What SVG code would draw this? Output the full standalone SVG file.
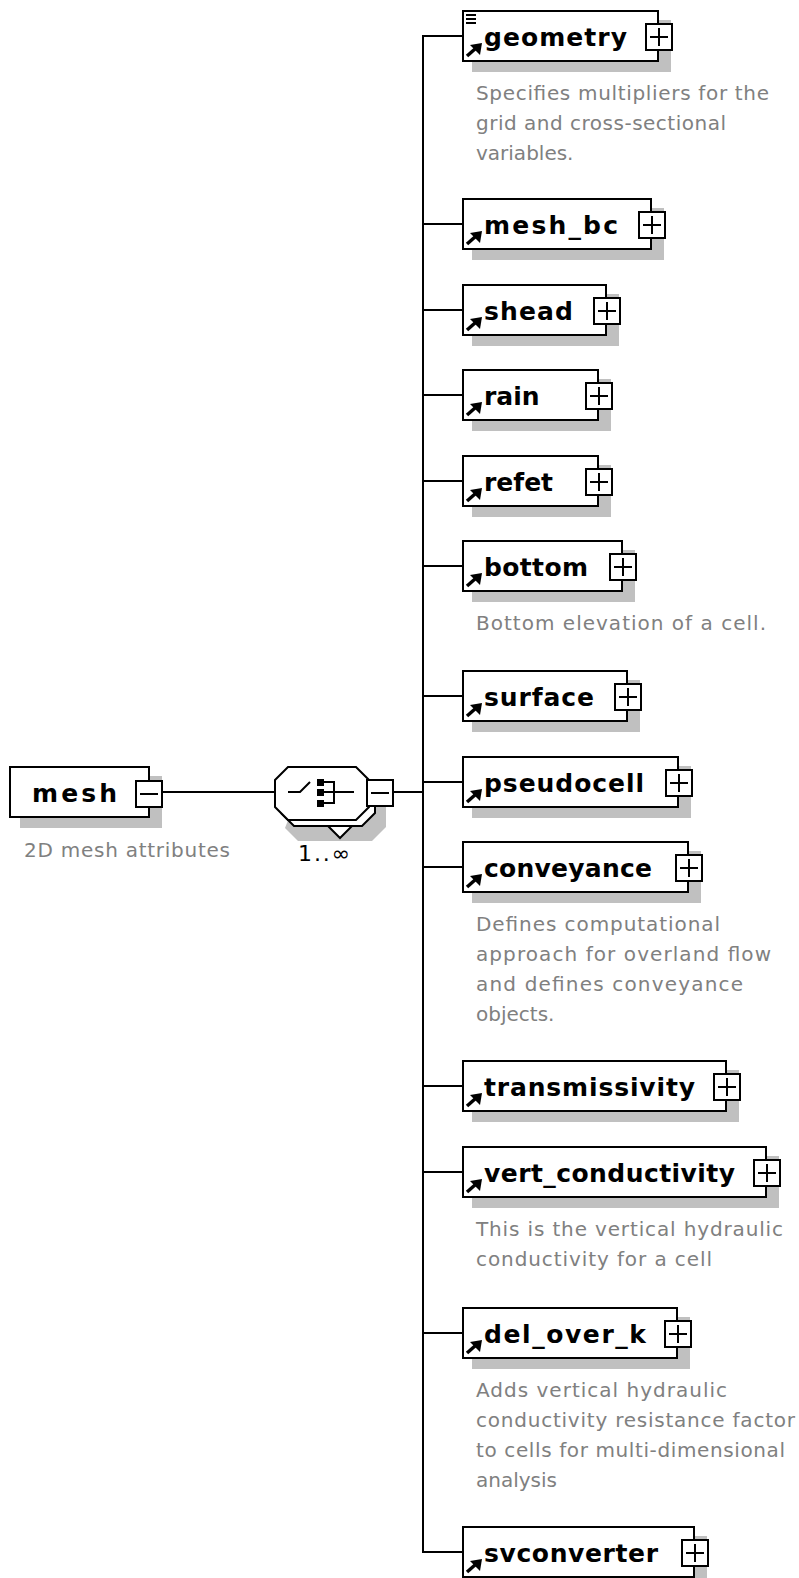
<svg xmlns="http://www.w3.org/2000/svg" xmlns:xlink="http://www.w3.org/1999/xlink" width="799" height="1578" viewBox="0 0 799 1578">
  <style>
    .box { fill: #fff; stroke: #000; stroke-width: 2; }
    .shadow { fill: #c0c0c0; }
    .wire { fill: none; stroke: #000; stroke-width: 2; }
    .lbl { font-family: "DejaVu Sans", "Liberation Sans", sans-serif; font-weight: bold; font-size: 25px; fill: #000; }
    .doc { font-family: "DejaVu Sans", "Liberation Sans", sans-serif; font-size: 20px; fill: #808080; }
    .occ { font-family: "DejaVu Sans", "Liberation Sans", sans-serif; font-size: 22px; fill: #000; }
  </style>
  <defs>
    <!-- reference arrow drawn at the lower-left corner of an element box (origin = box left, centre line) -->
    <g id="refArrow">
      <line x1="467" y1="20" x2="475" y2="13" stroke="#000" stroke-width="3.5"/>
      <polygon points="482,7 470,9 480,19" fill="#000"/>
    </g>
    <!-- expand button, centred on its anchor -->
    <g id="plusBtn">
      <rect x="-13" y="-12" width="26" height="26" class="box"/>
      <line x1="-9" y1="1" x2="9" y2="1" stroke="#000" stroke-width="2"/>
      <line x1="0" y1="-8" x2="0" y2="10" stroke="#000" stroke-width="2"/>
    </g>
    <g id="minusBtn">
      <rect x="-13" y="-12" width="26" height="26" class="box"/>
      <line x1="-9" y1="1" x2="9" y2="1" stroke="#000" stroke-width="2"/>
    </g>
  </defs>

  <!-- connectors -->
  <g id="connectors">
    <line class="wire" x1="163" y1="792" x2="275" y2="792"/>
    <line class="wire" x1="394" y1="792" x2="423" y2="792"/>
    <line class="wire" x1="423" y1="35" x2="423" y2="1553"/>
    <line class="wire" x1="422" y1="36" x2="462" y2="36"/>
    <line class="wire" x1="423" y1="224" x2="462" y2="224"/>
    <line class="wire" x1="423" y1="310" x2="462" y2="310"/>
    <line class="wire" x1="423" y1="395" x2="462" y2="395"/>
    <line class="wire" x1="423" y1="481" x2="462" y2="481"/>
    <line class="wire" x1="423" y1="566" x2="462" y2="566"/>
    <line class="wire" x1="423" y1="696" x2="462" y2="696"/>
    <line class="wire" x1="423" y1="782" x2="462" y2="782"/>
    <line class="wire" x1="423" y1="867" x2="462" y2="867"/>
    <line class="wire" x1="423" y1="1086" x2="462" y2="1086"/>
    <line class="wire" x1="423" y1="1172" x2="462" y2="1172"/>
    <line class="wire" x1="423" y1="1333" x2="462" y2="1333"/>
    <line class="wire" x1="422" y1="1552" x2="462" y2="1552"/>
  </g>

  <!-- root element -->
  <g id="node-mesh">
    <rect class="shadow" x="20" y="776" width="142" height="52"/>
    <rect class="box" x="10" y="767" width="139" height="50"/>
    <text class="lbl" x="32" y="802" textLength="85" lengthAdjust="spacing">mesh</text>
    <use xlink:href="#minusBtn" x="149" y="793"/>
    <text class="doc" x="24" y="857" textLength="206" lengthAdjust="spacing">2D mesh attributes</text>
  </g>

  <!-- sequence compositor, 1..unbounded -->
  <g id="node-sequence">
    <polygon class="shadow" points="285,828 298,841 372,841 386,827 386,790 300,790"/>
    <path d="M281,813 L294,826 L362,826 L375,813 L375,790" fill="#fff" stroke="#000" stroke-width="2"/>
    <polygon points="328,826 340,838 352,826" fill="#fff" stroke="#000" stroke-width="2"/>
    <polygon class="box" points="275,780 288,767 356,767 369,780 369,807 356,820 288,820 275,807"/>
    <path d="M288,792 H300 L310,782" fill="none" stroke="#000" stroke-width="2"/>
    <rect x="317" y="779" width="7" height="7" fill="#000"/>
    <rect x="317" y="789" width="7" height="7" fill="#000"/>
    <rect x="317" y="800" width="7" height="7" fill="#000"/>
    <path d="M324,782 H334 V803 H324 M324,792 H354" fill="none" stroke="#000" stroke-width="2"/>
    <use xlink:href="#minusBtn" x="380" y="792"/>
    <text class="occ" x="298" y="861" textLength="52" lengthAdjust="spacing">1..∞</text>
  </g>

  <g id="node-geometry" transform="translate(0,36)">
    <rect class="shadow" x="472" y="-16" width="199" height="52"/>
    <rect class="box" x="463" y="-25" width="195" height="50"/>
    <line x1="466" y1="-21" x2="476" y2="-21" stroke="#000" stroke-width="2"/>
    <line x1="466" y1="-17" x2="476" y2="-17" stroke="#000" stroke-width="2"/>
    <line x1="466" y1="-13" x2="476" y2="-13" stroke="#000" stroke-width="2"/>
    <use xlink:href="#refArrow"/>
    <text class="lbl" x="484" y="10" textLength="143" lengthAdjust="spacing">geometry</text>
    <use xlink:href="#plusBtn" x="659" y="0"/>
    <text class="doc" x="476" y="64" textLength="293" lengthAdjust="spacing">Specifies multipliers for the</text>
    <text class="doc" x="476" y="94" textLength="250" lengthAdjust="spacing">grid and cross-sectional</text>
    <text class="doc" x="476" y="124">variables.</text>
  </g>

  <g id="node-mesh_bc" transform="translate(0,224)">
    <rect class="shadow" x="472" y="-16" width="192" height="52"/>
    <rect class="box" x="463" y="-25" width="188" height="50"/>
    <use xlink:href="#refArrow"/>
    <text class="lbl" x="484" y="10" textLength="134" lengthAdjust="spacing">mesh_bc</text>
    <use xlink:href="#plusBtn" x="652" y="0"/>
  </g>

  <g id="node-shead" transform="translate(0,310)">
    <rect class="shadow" x="472" y="-16" width="147" height="52"/>
    <rect class="box" x="463" y="-25" width="143" height="50"/>
    <use xlink:href="#refArrow"/>
    <text class="lbl" x="484" y="10" textLength="89" lengthAdjust="spacing">shead</text>
    <use xlink:href="#plusBtn" x="607" y="0"/>
  </g>

  <g id="node-rain" transform="translate(0,395)">
    <rect class="shadow" x="472" y="-16" width="139" height="52"/>
    <rect class="box" x="463" y="-25" width="135" height="50"/>
    <use xlink:href="#refArrow"/>
    <text class="lbl" x="484" y="10">rain</text>
    <use xlink:href="#plusBtn" x="599" y="0"/>
  </g>

  <g id="node-refet" transform="translate(0,481)">
    <rect class="shadow" x="472" y="-16" width="139" height="52"/>
    <rect class="box" x="463" y="-25" width="135" height="50"/>
    <use xlink:href="#refArrow"/>
    <text class="lbl" x="484" y="10">refet</text>
    <use xlink:href="#plusBtn" x="599" y="0"/>
  </g>

  <g id="node-bottom" transform="translate(0,566)">
    <rect class="shadow" x="472" y="-16" width="163" height="52"/>
    <rect class="box" x="463" y="-25" width="159" height="50"/>
    <use xlink:href="#refArrow"/>
    <text class="lbl" x="484" y="10" textLength="104" lengthAdjust="spacing">bottom</text>
    <use xlink:href="#plusBtn" x="623" y="0"/>
    <text class="doc" x="476" y="64" textLength="290" lengthAdjust="spacing">Bottom elevation of a cell.</text>
  </g>

  <g id="node-surface" transform="translate(0,696)">
    <rect class="shadow" x="472" y="-16" width="168" height="52"/>
    <rect class="box" x="463" y="-25" width="164" height="50"/>
    <use xlink:href="#refArrow"/>
    <text class="lbl" x="484" y="10" textLength="110" lengthAdjust="spacing">surface</text>
    <use xlink:href="#plusBtn" x="628" y="0"/>
  </g>

  <g id="node-pseudocell" transform="translate(0,782)">
    <rect class="shadow" x="472" y="-16" width="219" height="52"/>
    <rect class="box" x="463" y="-25" width="215" height="50"/>
    <use xlink:href="#refArrow"/>
    <text class="lbl" x="484" y="10" textLength="160" lengthAdjust="spacing">pseudocell</text>
    <use xlink:href="#plusBtn" x="679" y="0"/>
  </g>

  <g id="node-conveyance" transform="translate(0,867)">
    <rect class="shadow" x="472" y="-16" width="229" height="52"/>
    <rect class="box" x="463" y="-25" width="225" height="50"/>
    <use xlink:href="#refArrow"/>
    <text class="lbl" x="484" y="10" textLength="168" lengthAdjust="spacing">conveyance</text>
    <use xlink:href="#plusBtn" x="689" y="0"/>
    <text class="doc" x="476" y="64" textLength="244" lengthAdjust="spacing">Defines computational</text>
    <text class="doc" x="476" y="94" textLength="295" lengthAdjust="spacing">approach for overland flow</text>
    <text class="doc" x="476" y="124" textLength="267" lengthAdjust="spacing">and defines conveyance</text>
    <text class="doc" x="476" y="154">objects.</text>
  </g>

  <g id="node-transmissivity" transform="translate(0,1086)">
    <rect class="shadow" x="472" y="-16" width="267" height="52"/>
    <rect class="box" x="463" y="-25" width="263" height="50"/>
    <use xlink:href="#refArrow"/>
    <text class="lbl" x="484" y="10" textLength="211" lengthAdjust="spacing">transmissivity</text>
    <use xlink:href="#plusBtn" x="727" y="0"/>
  </g>

  <g id="node-vert_conductivity" transform="translate(0,1172)">
    <rect class="shadow" x="472" y="-16" width="307" height="52"/>
    <rect class="box" x="463" y="-25" width="303" height="50"/>
    <use xlink:href="#refArrow"/>
    <text class="lbl" x="484" y="10" textLength="251" lengthAdjust="spacing">vert_conductivity</text>
    <use xlink:href="#plusBtn" x="767" y="0"/>
    <text class="doc" x="476" y="64" textLength="307" lengthAdjust="spacing">This is the vertical hydraulic</text>
    <text class="doc" x="476" y="94" textLength="236" lengthAdjust="spacing">conductivity for a cell</text>
  </g>

  <g id="node-del_over_k" transform="translate(0,1333)">
    <rect class="shadow" x="472" y="-16" width="218" height="52"/>
    <rect class="box" x="463" y="-25" width="214" height="50"/>
    <use xlink:href="#refArrow"/>
    <text class="lbl" x="484" y="10" textLength="162" lengthAdjust="spacing">del_over_k</text>
    <use xlink:href="#plusBtn" x="678" y="0"/>
    <text class="doc" x="476" y="64" textLength="251" lengthAdjust="spacing">Adds vertical hydraulic</text>
    <text class="doc" x="476" y="94" textLength="319" lengthAdjust="spacing">conductivity resistance factor</text>
    <text class="doc" x="476" y="124" textLength="309" lengthAdjust="spacing">to cells for multi-dimensional</text>
    <text class="doc" x="476" y="154">analysis</text>
  </g>

  <g id="node-svconverter" transform="translate(0,1552)">
    <rect class="shadow" x="472" y="-16" width="235" height="52"/>
    <rect class="box" x="463" y="-25" width="231" height="50"/>
    <use xlink:href="#refArrow"/>
    <text class="lbl" x="484" y="10" textLength="174" lengthAdjust="spacing">svconverter</text>
    <use xlink:href="#plusBtn" x="695" y="0"/>
  </g>
</svg>
